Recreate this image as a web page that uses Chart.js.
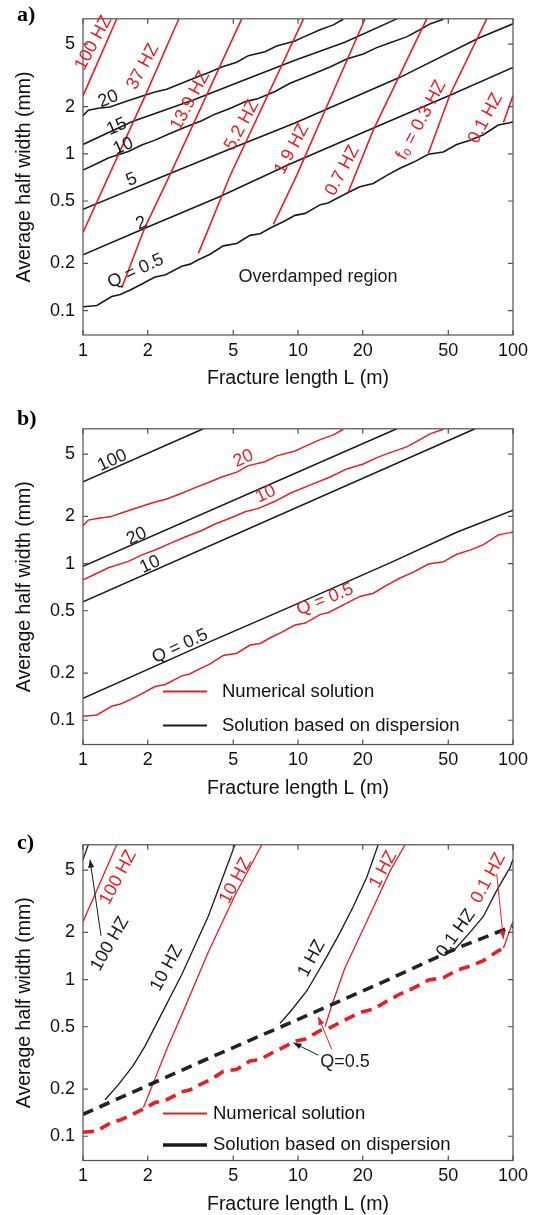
<!DOCTYPE html>
<html>
<head>
<meta charset="utf-8">
<script src="https://cdn.jsdelivr.net/npm/chart.js@4/dist/chart.umd.min.js"></script>
<style>
html, body { margin: 0; padding: 0; background: #fff; overflow: hidden; }
body { width: 534px; height: 1215px; position: relative; }
.panel { position: absolute; left: 0; width: 534px; height: 390px; }
</style>
</head>
<body>
<div class="panel" style="top:0px"><canvas id="panelA"></canvas></div>
<div class="panel" style="top:410px"><canvas id="panelB"></canvas></div>
<div class="panel" style="top:826px"><canvas id="panelC"></canvas></div>
<script>
// axis ticks
const xTicks = [1, 2, 5, 10, 20, 50, 100];
const yTicks = [0.1, 0.2, 0.5, 1, 2, 5];

// numerical solution, Q contours  [L (m), half width (mm)]
const numQ05 = [[1.0,0.106],[1.16,0.108],[1.36,0.123],[1.49,0.127],[1.65,0.135],[1.88,0.148],[2.16,0.164],[2.41,0.169],
  [2.88,0.192],[3.15,0.198],[3.44,0.211],[3.90,0.229],[4.49,0.259],[5.19,0.268],[5.98,0.302],[6.66,0.309],[7.55,0.340],
  [8.54,0.369],[9.68,0.405],[10.8,0.417],[12.7,0.474],[13.8,0.486],[17.1,0.566],[19.4,0.617],[22.4,0.647],[25.9,0.728],
  [29.8,0.809],[34.4,0.882],[40.4,0.993],[47.4,1.026],[54.7,1.146],[63.1,1.218],[72.8,1.322],[85.4,1.525],[96.8,1.576],[100,1.60]];
const numQ2 = [[1,0.227],[1.94,0.335],[4.34,0.535],[9.18,0.861],[22.3,1.455],[50.9,2.36],[100,3.55]];
const numQ5 = [[1,0.443],[2.49,0.741],[4.83,1.074],[9.68,1.569],[29.8,3.07],[69,5.45],[100,6.74]];
const numQ10 = [[1.0,0.788],[1.137,0.855],[1.311,0.940],[1.624,1.033],[1.875,1.137],[2.162,1.222],[2.493,1.331],[2.981,1.477],
  [3.565,1.626],[4.111,1.789],[4.915,1.967],[5.669,2.143],[6.536,2.25],[7.816,2.498],[9.18,2.812],[11.37,3.17],[14.09,3.57],
  [16.85,4.02],[20.12,4.32],[23.23,4.75],[26.8,5.11],[32.0,5.56],[36.9,6.18],[41.1,6.73],[47.4,7.2]];
const numQ15 = [[1,1.146],[1.685,1.60],[3.26,2.20],[5.47,2.91],[9.68,3.95],[16.5,5.14],[28.8,7.24]];
const numQ20 = [[1.0,1.747],[1.058,1.895],[1.178,1.95],[1.335,1.987],[1.568,2.143],[1.875,2.325],[2.162,2.474],[2.451,2.581],
  [2.877,2.812],[3.26,3.02],[3.826,3.29],[4.418,3.57],[5.187,3.837],[5.873,4.222],[7.02,4.47],[7.96,4.87],[9.68,5.23],
  [10.4,5.48],[12.66,6.18],[14.6,6.63],[16.24,7.2]];

// numerical solution, resonance frequency contours
const numF100 = [[1,2.34],[1.435,7.25]];
const numF37 = [[1,0.315],[1.94,2.32],[2.79,7.25]];
const numF13_9 = [[1.514,0.140],[1.94,0.340],[2.49,0.695],[5.47,7.25]];
const numF5_2 = [[3.44,0.232],[4.83,0.725],[10.6,7.25]];
const numF1_9 = [[7.68,0.355],[9.86,0.728],[20.5,7.25]];
const numF0_7 = [[17.1,0.566],[22.4,1.42],[39.7,7.25]];
const numF0_3 = [[40.4,1.007],[50.9,2.38],[75.4,7.25]];
const numF0_1 = [[90.2,1.585],[100,2.35]];
const numF10 = [[1.908,0.152],[2.12,0.2175],[2.451,0.3586],[2.981,0.667],[3.826,1.499],[5.09,3.455],[6.78,7.25]];
const numF1 = [[13.36,0.501],[14.35,0.683],[16.5,1.182],[19.43,1.903],[23.23,3.217],[26.8,4.94],[31.46,7.25]];

// solution based on dispersion
const dispQ100 = [[1,3.32],[3.63,7.25]];
const dispQ20 = [[1,0.962],[28.8,7.25]];
const dispQ10 = [[1,0.57],[66.6,7.25]];
const dispQ05 = [[1,0.138],[3.83,0.314],[10.4,0.570],[26.8,1.01],[54.7,1.586],[100,2.19]];
const dispF100 = [[1,5.83],[1.058,7.25]];
const dispF10 = [[1.266,0.171],[1.459,0.2125],[1.714,0.283],[1.943,0.376],[2.323,0.606],[2.877,1.074],[3.826,2.533],[5.09,7.25]];
const dispF1 = [[8.25,0.525],[9.18,0.621],[10.98,0.846],[13.6,1.396],[15.68,1.995],[18.08,2.924],[20.87,4.49],[23.6,7.25]];
const dispF0_1 = [[52.3,1.50],[63.1,2.0],[72.8,2.53],[84.0,3.71],[96.8,5.18],[100,5.87]];

const RED = 'rgb(232,30,36)';
const BLACK = '#1a1a1a';
const FONT = '"Liberation Sans", Arial, Helvetica, "DejaVu Sans", sans-serif';
const PLOT_H = 324;

// contour labels, arrows and legends for each panel
const notes = {
  panelA: {
    tag: ['a)', 21],
    labels: [
      ['100 HZ', 1.12, 5.09, -62, RED], ['37 HZ', 1.9, 3.6, -62, RED], ['13.9 HZ', 3.15, 2.18, -62, RED],
      ['5.2 HZ', 5.48, 1.525, -62, RED], ['1.9 HZ', 9.36, 1.07, -62, RED], ['0.7 HZ', 16.1, 0.782, -62, RED],
      ['f\u2080 = 0.3 HZ', 37.4, 1.638, -62, RED], ['0.1 HZ', 74.5, 1.685, -62, RED],
      ['20', 1.311, 2.234, -23, BLACK], ['15', 1.435, 1.488, -23, BLACK], ['10', 1.54, 1.118, -23, BLACK],
      ['5', 1.685, 0.684, -23, BLACK], ['2', 1.867, 0.361, -23, BLACK], ['Q = 0.5', 1.758, 0.1785, -25, BLACK],
      ['Overdamped region', 12.39, 0.1638, 0, BLACK]
    ],
    arrows: [],
    legend: null
  },
  panelB: {
    tag: ['b)', 15],
    labels: [
      ['100', 1.369, 4.55, -25, BLACK], ['20', 5.57, 4.69, -25, RED], ['20', 1.777, 1.493, -25, BLACK],
      ['10', 7.07, 2.78, -25, RED], ['10', 2.05, 0.986, -25, BLACK], ['Q = 0.5', 2.827, 0.2965, -25, BLACK],
      ['Q = 0.5', 13.36, 0.589, -22, RED]
    ],
    arrows: [],
    legend: {rows: [['Numerical solution', RED, 2, 53], ['Solution based on dispersion', BLACK, 2, 19]], textX: 139}
  },
  panelC: {
    tag: ['c)', 23],
    labels: [
      ['100 HZ', 1.459, 4.49, -62, RED], ['100 HZ', 1.335, 1.69, -60, BLACK], ['10 HZ', 2.451, 1.182, -62, BLACK],
      ['10 HZ', 5.13, 4.28, -62, RED], ['1 HZ', 11.58, 1.364, -62, BLACK], ['1 HZ', 24.93, 5.05, -62, RED],
      ['0.1 HZ', 54.3, 1.972, -55, BLACK], ['0.1 HZ', 76.8, 4.44, -62, RED], ['Q=0.5', 16.54, 0.2995, 0, BLACK]
    ],
    arrows: [
      [1.213, 1.903, 1.078, 5.83, BLACK], [12.43, 0.329, 9.51, 0.395, BLACK],
      [14.35, 0.3586, 12.43, 0.578, RED], [84.0, 4.71, 90.2, 1.815, RED]
    ],
    legend: {rows: [['Numerical solution', RED, 1.8, 47], ['Solution based on dispersion', BLACK, 3.5, 15.5]], textX: 130}
  }
};

function pts(list) { return list.map(p => ({x: p[0], y: p[1]})); }
function line(list, color, width, dash) {
  return {data: pts(list), borderColor: color, borderWidth: width, borderDash: dash || [],
          pointRadius: 0, fill: false, tension: 0, showLine: true};
}

function drawText(ctx, txt, x, y, deg, color, size) {
  ctx.save();
  ctx.translate(x, y);
  ctx.rotate(deg * Math.PI / 180);
  ctx.fillStyle = color;
  ctx.font = size + 'px ' + FONT;
  ctx.textAlign = 'center';
  ctx.textBaseline = 'middle';
  ctx.fillText(txt, 0, 0);
  ctx.restore();
}

function drawArrow(ctx, x0, y0, x1, y1, color) {
  const ang = Math.atan2(y1 - y0, x1 - x0), len = 8, half = 3;
  ctx.save();
  ctx.strokeStyle = color; ctx.fillStyle = color; ctx.lineWidth = 1;
  ctx.beginPath(); ctx.moveTo(x0, y0); ctx.lineTo(x1, y1); ctx.stroke();
  ctx.beginPath();
  ctx.moveTo(x1, y1);
  ctx.lineTo(x1 - len * Math.cos(ang) + half * Math.sin(ang), y1 - len * Math.sin(ang) - half * Math.cos(ang));
  ctx.lineTo(x1 - len * Math.cos(ang) - half * Math.sin(ang), y1 - len * Math.sin(ang) + half * Math.cos(ang));
  ctx.closePath(); ctx.fill();
  ctx.restore();
}

// box, inward ticks, labels, arrows, legend
const decorations = {
  id: 'decorations',
  afterDatasetsDraw(chart) {
    const {ctx, chartArea: a, scales: {x, y}} = chart;
    const n = notes[chart.canvas.id];
    ctx.save();
    ctx.strokeStyle = '#505050';
    ctx.lineWidth = 1.2;
    ctx.strokeRect(a.left, a.top, a.right - a.left, a.bottom - a.top);
    ctx.beginPath();
    xTicks.forEach(v => {
      const px = x.getPixelForValue(v);
      ctx.moveTo(px, a.bottom); ctx.lineTo(px, a.bottom - 5);
      ctx.moveTo(px, a.top); ctx.lineTo(px, a.top + 5);
    });
    yTicks.forEach(v => {
      const py = y.getPixelForValue(v);
      ctx.moveTo(a.left, py); ctx.lineTo(a.left + 5, py);
      ctx.moveTo(a.right, py); ctx.lineTo(a.right - 5, py);
    });
    ctx.stroke();
    ctx.restore();

    n.labels.forEach(l => drawText(ctx, l[0], x.getPixelForValue(l[1]), y.getPixelForValue(l[2]), l[3], l[4], 18));
    n.arrows.forEach(r => drawArrow(ctx, x.getPixelForValue(r[0]), y.getPixelForValue(r[1]),
                                    x.getPixelForValue(r[2]), y.getPixelForValue(r[3]), r[4]));
    if (n.legend) {
      n.legend.rows.forEach(r => {
        const ly = a.bottom - r[3];
        ctx.save();
        ctx.strokeStyle = r[1]; ctx.lineWidth = r[2];
        ctx.beginPath(); ctx.moveTo(a.left + 80, ly); ctx.lineTo(a.left + 124, ly); ctx.stroke();
        ctx.fillStyle = '#111'; ctx.font = '18.5px ' + FONT;
        ctx.textAlign = 'left'; ctx.textBaseline = 'middle';
        ctx.fillText(r[0], a.left + n.legend.textX, ly);
        ctx.restore();
      });
    }
    ctx.save();
    ctx.fillStyle = '#000';
    ctx.font = 'bold 22px "Liberation Serif", "Times New Roman", serif';
    ctx.textAlign = 'left'; ctx.textBaseline = 'alphabetic';
    ctx.fillText(n.tag[0], 17, n.tag[1]);
    ctx.restore();
  }
};

function makeChart(id, plotTop, datasets) {
  const canvasH = 390;
  return new Chart(document.getElementById(id), {
    type: 'line',
    data: {datasets: datasets},
    options: {
      responsive: true,
      maintainAspectRatio: false,
      animation: false,
      events: [],
      layout: {padding: {top: plotTop, right: 21, left: 0, bottom: 0}},
      plugins: {legend: {display: false}, tooltip: {enabled: false}},
      scales: {
        x: {
          type: 'logarithmic', min: 1, max: 100, position: 'bottom',
          afterBuildTicks: s => { s.ticks = xTicks.map(v => ({value: v})); },
          afterFit: s => { s.height = canvasH - plotTop - PLOT_H; },
          grid: {display: false, drawTicks: false},
          border: {display: false},
          ticks: {autoSkip: false, maxRotation: 0, padding: 5, color: '#111',
                  font: {family: FONT, size: 18}, callback: v => String(v)},
          title: {display: true, text: 'Fracture length L (m)', color: '#111',
                  font: {family: FONT, size: 19.5, lineHeight: 1}, padding: {top: 0, bottom: 2}}
        },
        y: {
          type: 'logarithmic', min: 0.07, max: 7.25, position: 'left',
          afterBuildTicks: s => { s.ticks = yTicks.map(v => ({value: v})); },
          afterFit: s => { s.width = 83; },
          grid: {display: false, drawTicks: false},
          border: {display: false},
          ticks: {autoSkip: false, padding: 8, color: '#111',
                  font: {family: FONT, size: 18}, callback: v => String(v)},
          title: {display: true, text: 'Average half width (mm)', color: '#111',
                  font: {family: FONT, size: 19.5, lineHeight: 1}, padding: {top: 15, bottom: 0}}
        }
      }
    },
    plugins: [decorations]
  });
}

makeChart('panelA', 11, [
  line(numF100, RED, 1.6), line(numF37, RED, 1.6), line(numF13_9, RED, 1.6), line(numF5_2, RED, 1.6),
  line(numF1_9, RED, 1.6), line(numF0_7, RED, 1.6), line(numF0_3, RED, 1.6), line(numF0_1, RED, 1.6),
  line(numQ05, BLACK, 1.6), line(numQ2, BLACK, 1.6), line(numQ5, BLACK, 1.6),
  line(numQ10, BLACK, 1.6), line(numQ15, BLACK, 1.6), line(numQ20, BLACK, 1.6)
]);

makeChart('panelB', 10.5, [
  line(numQ20, RED, 1.5), line(numQ10, RED, 1.5), line(numQ05, RED, 1.5),
  line(dispQ100, BLACK, 1.5), line(dispQ20, BLACK, 1.5), line(dispQ10, BLACK, 1.5), line(dispQ05, BLACK, 1.5)
]);

const numQ05Cut = numQ05.filter(p => p[0] < 90).concat([numF0_1[0]]);
makeChart('panelC', 10.5, [
  line(numQ05Cut, RED, 3.6, [11, 7]), line(dispQ05, '#222', 3.6, [11, 7]),
  line(numF100, RED, 1.3), line(numF10, RED, 1.3), line(numF1, RED, 1.3), line(numF0_1, RED, 1.3),
  line(dispF100, BLACK, 1.3), line(dispF10, BLACK, 1.3), line(dispF1, BLACK, 1.3), line(dispF0_1, BLACK, 1.3)
]);
</script>
</body>
</html>
